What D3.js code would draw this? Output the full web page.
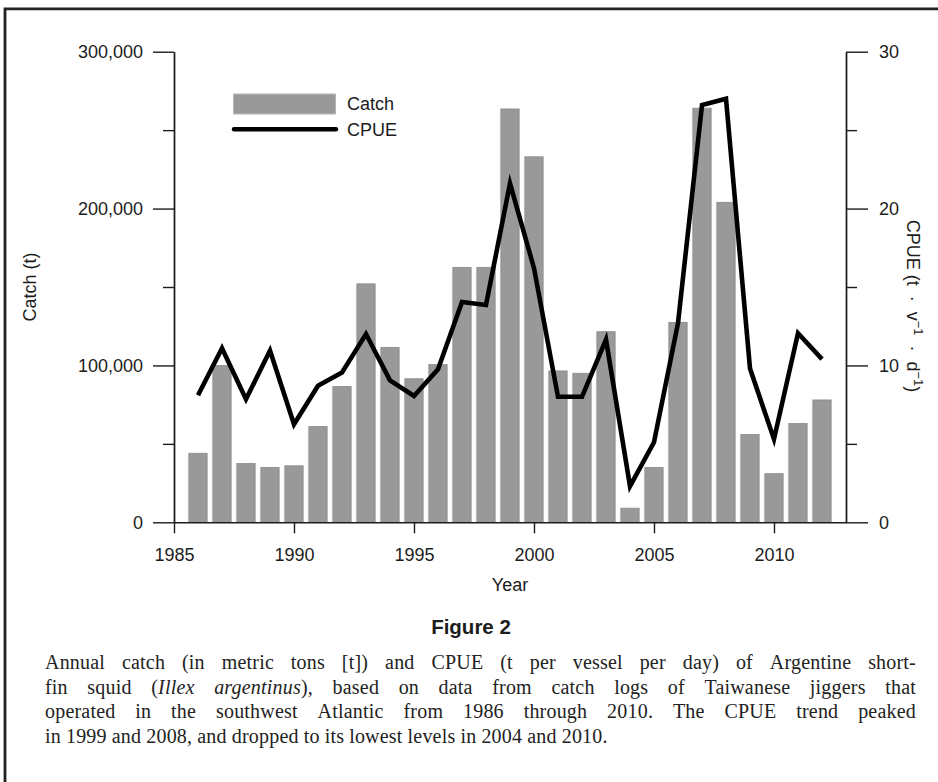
<!DOCTYPE html>
<html>
<head>
<meta charset="utf-8">
<script src="https://cdn.jsdelivr.net/npm/d3@7"></script>
<style>
  body { margin: 0; background: #fff; }
  svg { display: block; }
</style>
</head>
<body>
<svg id="fig" width="938" height="782"></svg>
<script>
// Annual catch (t) and CPUE of Illex argentinus, Taiwanese jigger fleet
const years = [1986, 1987, 1988, 1989, 1990, 1991, 1992, 1993, 1994, 1995, 1996, 1997, 1998, 1999,
               2000, 2001, 2002, 2003, 2004, 2005, 2006, 2007, 2008, 2009, 2010, 2011, 2012];
const catchTons = [44000, 100000, 37500, 35000, 36000, 61000, 86500, 152000, 111500, 91500, 100500, 162500, 162500, 263500,
                   233000, 96500, 95000, 121500, 9000, 35000, 127500, 264000, 204000, 56000, 31000, 63000, 78000];
const cpue = [8.1, 11.1, 7.85, 10.95, 6.25, 8.7, 9.55, 12.0, 9.05, 8.05, 9.75, 14.05, 13.85, 21.6,
              16.2, 8.0, 8.0, 11.65, 2.3, 5.1, 12.7, 26.6, 27.0, 9.8, 5.3, 12.05, 10.4];

const yearTicks = [1985, 1990, 1995, 2000, 2005, 2010];
const catchTicks = [0, 100000, 200000, 300000];
const catchMinorTicks = [50000, 150000, 250000];
const cpueTicks = [0, 10, 20, 30];
const cpueMinorTicks = [5, 15, 25];

const seriesNames = ["Catch", "CPUE"];
const figureTitle = "Figure 2";
// caption lines; text between '*' marks is set in italics
const captionLines = [
  "Annual catch (in metric tons [t]) and CPUE (t per vessel per day) of Argentine short-",
  "fin squid (*Illex argentinus*), based on data from catch logs of Taiwanese jiggers that",
  "operated in the southwest Atlantic from 1986 through 2010. The CPUE trend peaked",
  "in 1999 and 2008, and dropped to its lowest levels in 2004 and 2010."
];

const sans = "'Liberation Sans', Arial, Helvetica, sans-serif";
const serif = "'Liberation Serif', 'Times New Roman', serif";
const ink = "#1c1c1c";
const barFill = "#999999";

const svg = d3.select("#fig");

// frame around the figure
svg.append("path")
  .attr("d", "M5,790 V8.8 H945")
  .attr("fill", "none").attr("stroke", "#222").attr("stroke-width", 2.8);

const x = d3.scaleLinear().domain([1985, 2013]).range([174, 846]);
const yC = d3.scaleLinear().domain([0, 300000]).range([522.3, 51.7]);
const yP = d3.scaleLinear().domain([0, 30]).range([522.3, 51.7]);
const barW = 18.3;

// bars
svg.append("g").selectAll("rect").data(years).join("rect")
  .attr("x", (d) => x(d) - barW / 2)
  .attr("y", (d, i) => yC(catchTons[i]))
  .attr("width", barW)
  .attr("height", (d, i) => yC(0) - yC(catchTons[i]))
  .attr("fill", barFill)
  .attr("stroke", "#8a8a8a").attr("stroke-width", 0.8);

// CPUE line
const line = d3.line().x((d) => x(d[0])).y((d) => yP(d[1]));
svg.append("path")
  .datum(years.map((yr, i) => [yr, cpue[i]]))
  .attr("d", line)
  .attr("fill", "none").attr("stroke", "#000")
  .attr("stroke-width", 4.6).attr("stroke-linejoin", "miter").attr("stroke-miterlimit", 10);

function styleAxis(g) {
  g.attr("font-family", sans).attr("font-size", 18);
  g.selectAll("path.domain").attr("stroke", ink).attr("stroke-width", 1.4);
  g.selectAll(".tick line").attr("stroke", ink).attr("stroke-width", 1.4);
  g.selectAll(".tick text").attr("fill", ink);
}

// x axis
svg.append("g").attr("transform", `translate(0,${yC(0)})`)
  .call(d3.axisBottom(x).tickValues(yearTicks).tickSize(11).tickPadding(15)
        .tickSizeOuter(0).tickFormat(d3.format("d")))
  .call(styleAxis);

// left axis
svg.append("g").attr("transform", `translate(${x(1985)},0)`)
  .call(d3.axisLeft(yC).tickValues(catchTicks).tickSize(21).tickPadding(10)
        .tickSizeOuter(0).tickFormat(d3.format(",")))
  .call(styleAxis);
svg.append("g").attr("transform", `translate(${x(1985)},0)`)
  .call(d3.axisLeft(yC).tickValues(catchMinorTicks).tickSize(11).tickSizeOuter(0).tickFormat(""))
  .call(styleAxis);

// right axis
svg.append("g").attr("transform", `translate(${x(2013)},0)`)
  .call(d3.axisRight(yP).tickValues(cpueTicks).tickSize(22).tickPadding(11)
        .tickSizeOuter(0).tickFormat(d3.format("d")))
  .call(styleAxis);
svg.append("g").attr("transform", `translate(${x(2013)},0)`)
  .call(d3.axisRight(yP).tickValues(cpueMinorTicks).tickSize(11).tickSizeOuter(0).tickFormat(""))
  .call(styleAxis);

// axis titles
svg.append("text")
  .attr("transform", `translate(36,${(yC(0) + yC(300000)) / 2}) rotate(-90)`)
  .attr("text-anchor", "middle").attr("font-family", sans).attr("font-size", 18).attr("fill", ink)
  .text("Catch (t)");

svg.append("text")
  .attr("x", (x(1985) + x(2013)) / 2).attr("y", 591)
  .attr("text-anchor", "middle").attr("font-family", sans).attr("font-size", 18).attr("fill", ink)
  .text("Year");

const nb = "\u00A0";
const rt = svg.append("text")
  .attr("transform", "translate(907,306) rotate(90)")
  .attr("text-anchor", "middle").attr("font-family", sans).attr("font-size", 18).attr("fill", ink);
rt.append("tspan").text(`CPUE (t${nb}${nb}·${nb}${nb}v`);
rt.append("tspan").attr("baseline-shift", "super").attr("font-size", 13).text("−1");
rt.append("tspan").text(`${nb}${nb}·${nb}${nb}d`);
rt.append("tspan").attr("baseline-shift", "super").attr("font-size", 13).text("−1");
rt.append("tspan").text(")");

// legend
const lg = svg.append("g");
lg.append("rect").attr("x", 233.5).attr("y", 94).attr("width", 102).attr("height", 20)
  .attr("fill", barFill).attr("stroke", "#b5b5b5").attr("stroke-width", 1);
lg.append("line").attr("x1", 234).attr("x2", 336).attr("y1", 129.3).attr("y2", 129.3)
  .attr("stroke", "#000").attr("stroke-width", 4.4).attr("stroke-linecap", "round");
lg.selectAll("text").data(seriesNames).join("text")
  .attr("x", 347).attr("y", (d, i) => 110 + i * 26)
  .attr("font-family", sans).attr("font-size", 18).attr("fill", ink)
  .text((d) => d);

// figure title
svg.append("text")
  .attr("x", 471).attr("y", 634)
  .attr("text-anchor", "middle").attr("font-family", sans).attr("font-weight", "bold")
  .attr("font-size", 20.5).attr("fill", ink)
  .text(figureTitle);

// caption, justified between left and right margins (last line set ragged)
const capLeft = 45, capRight = 916, capTop = 669, capLead = 24.6, capSize = 20;
const cap = svg.append("g").attr("font-family", serif).attr("font-size", capSize)
  .attr("letter-spacing", 0.2).attr("fill", "#222");

let italic = false;
captionLines.forEach((lineText, li) => {
  const words = lineText.split(" ");
  const y = capTop + li * capLead;
  const nodes = words.map((w) => {
    const t = cap.append("text").attr("y", y);
    let buf = "";
    const flush = () => {
      if (buf) t.append("tspan").attr("font-style", italic ? "italic" : "normal").text(buf);
      buf = "";
    };
    for (const ch of w) {
      if (ch === "*") { flush(); italic = !italic; } else buf += ch;
    }
    flush();
    return t;
  });
  const widths = nodes.map((n) => n.node().getComputedTextLength());
  const total = d3.sum(widths);
  const last = li === captionLines.length - 1;
  const gap = last ? capSize * 0.25 : (capRight - capLeft - total) / (words.length - 1);
  let cx = capLeft;
  nodes.forEach((n, i) => { n.attr("x", cx); cx += widths[i] + gap; });
});
</script>
</body>
</html>
